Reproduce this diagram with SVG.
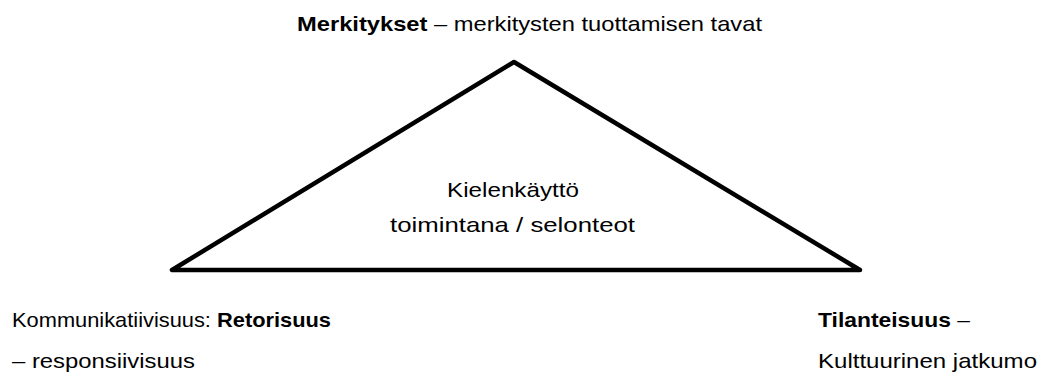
<svg xmlns="http://www.w3.org/2000/svg" width="1053" height="383" viewBox="0 0 1053 383">
  <style>
    .t { font-family: "Liberation Sans", Arial, sans-serif; font-size: 21px; fill: #000; }
    .b { font-weight: bold; }
    .tri { fill: none; stroke: #000; stroke-width: 4.5; stroke-linejoin: round; }
  </style>
  <rect width="1053" height="383" fill="#fff"/>
  <g id="triangle">
    <polygon class="tri" points="514,62 172,270 860,270"/>
  </g>
  <g id="connectors"></g>
  <g id="node-top">
    <text class="t" x="297" y="31" textLength="465" lengthAdjust="spacingAndGlyphs"><tspan class="b">Merkitykset</tspan> – merkitysten tuottamisen tavat</text>
  </g>
  <g id="node-center">
    <text class="t" x="447" y="197" textLength="132" lengthAdjust="spacingAndGlyphs">Kielenkäyttö</text>
    <text class="t" x="390" y="232" textLength="245" lengthAdjust="spacingAndGlyphs">toimintana / selonteot</text>
  </g>
  <g id="node-left">
    <text class="t" x="12" y="327" textLength="319" lengthAdjust="spacingAndGlyphs">Kommunikatiivisuus: <tspan class="b">Retorisuus</tspan></text>
    <text class="t" x="12" y="368" textLength="183" lengthAdjust="spacingAndGlyphs">– responsiivisuus</text>
  </g>
  <g id="node-right">
    <text class="t" x="818" y="327" textLength="152" lengthAdjust="spacingAndGlyphs"><tspan class="b">Tilanteisuus</tspan> –</text>
    <text class="t" x="818" y="368" textLength="219" lengthAdjust="spacingAndGlyphs">Kulttuurinen jatkumo</text>
  </g>
</svg>
